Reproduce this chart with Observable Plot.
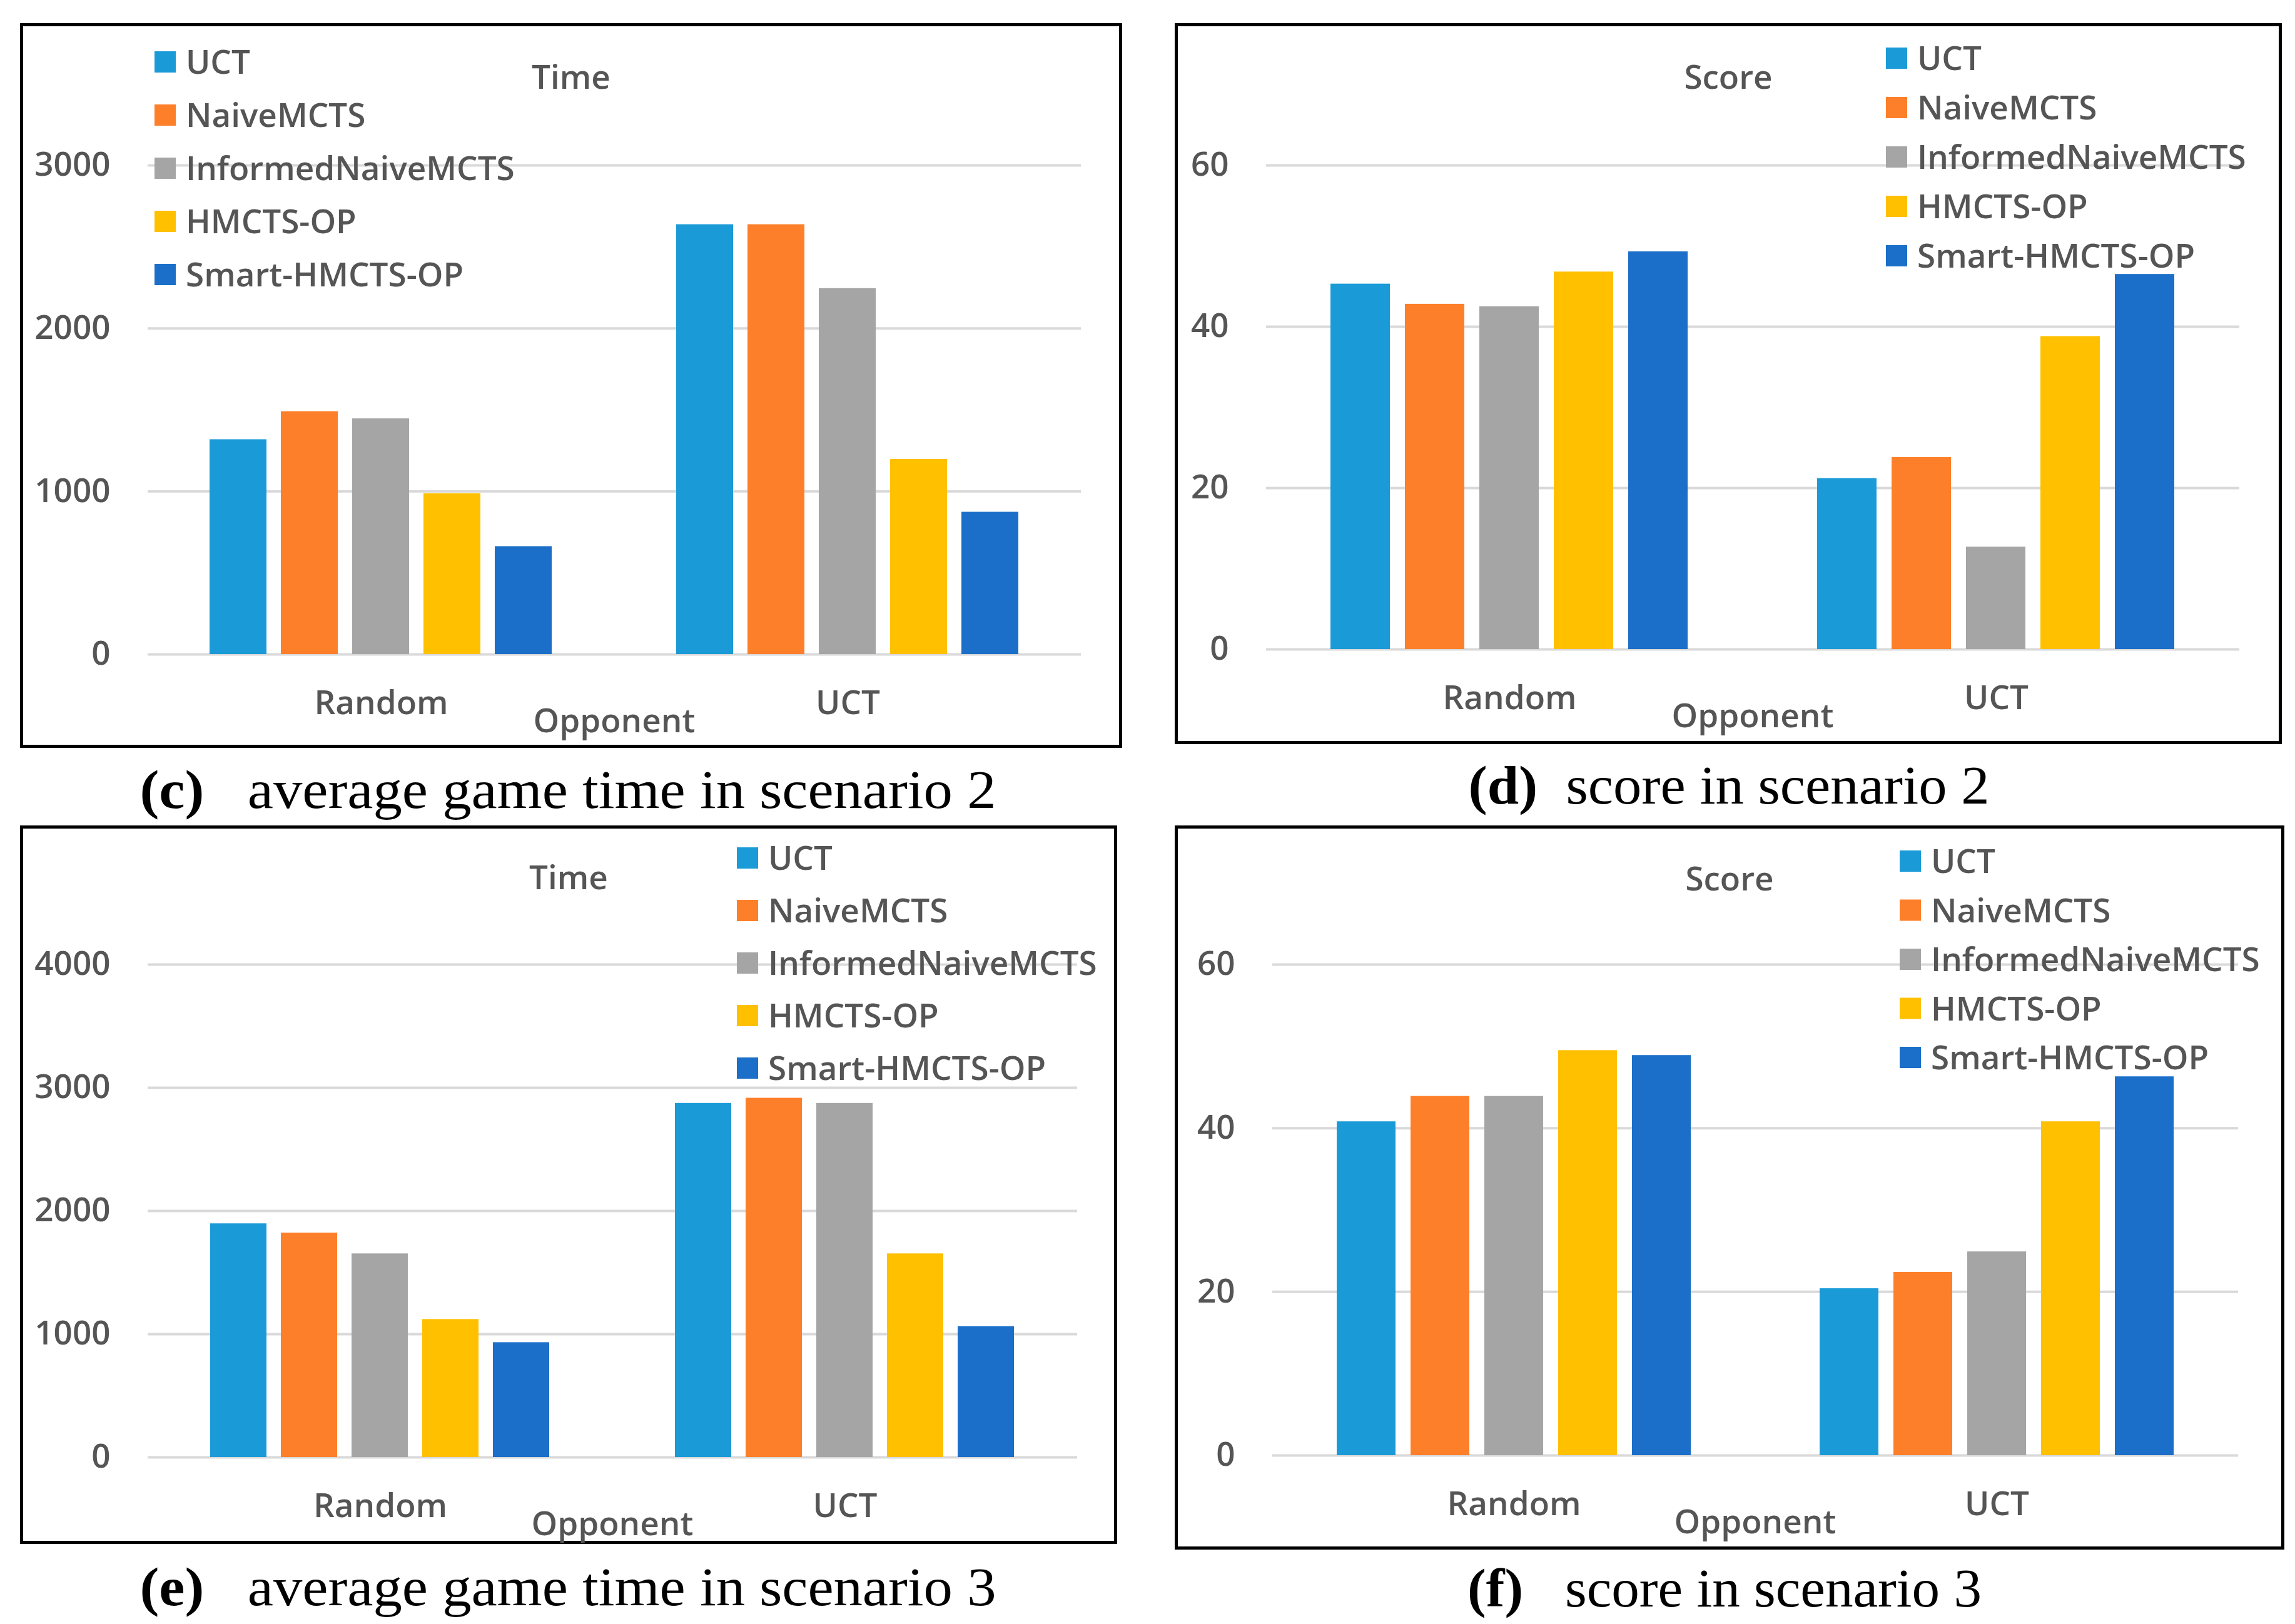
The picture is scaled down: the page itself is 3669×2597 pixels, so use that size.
<!DOCTYPE html>
<html>
<head>
<meta charset="utf-8">
<script src="https://cdn.jsdelivr.net/npm/d3@7"></script>
<script src="https://cdn.jsdelivr.net/npm/@observablehq/plot@0.6"></script>
<style>
  html, body { margin: 0; padding: 0; background: #fff; }
  body { position: relative; width: 3669px; height: 2597px; overflow: hidden; }
  .box { position: absolute; border: 5px solid #000; box-sizing: border-box; }
  .chart { position: absolute; }
  #overlay { position: absolute; left: 0; top: 0; }
</style>
</head>
<body>
<script>
// ---------- data ----------
const algorithms = ["UCT", "NaiveMCTS", "InformedNaiveMCTS", "HMCTS-OP", "Smart-HMCTS-OP"];
const opponents = ["Random", "UCT"];
const colors = ["#1a9bd7", "#fe7f2a", "#a5a5a5", "#ffc000", "#1b6fc9"];

const timeScenario2 = { Random: [1318, 1490, 1446, 987, 662], UCT: [2637, 2637, 2245, 1197, 873] };
const scoreScenario2 = { Random: [45.3, 42.8, 42.5, 46.8, 49.3], UCT: [21.2, 23.8, 12.7, 38.8, 46.5] };
const timeScenario3 = { Random: [1897, 1821, 1653, 1120, 932], UCT: [2874, 2916, 2874, 1653, 1062] };
const scoreScenario3 = { Random: [40.8, 43.9, 43.9, 49.5, 48.9], UCT: [20.4, 22.4, 24.9, 40.8, 46.3] };

const ticksTime2 = [0, 1000, 2000, 3000];
const ticksScore = [0, 20, 40, 60];
const ticksTime3 = [0, 1000, 2000, 3000, 4000];

const titles = ["Time", "Score", "Time", "Score"];
const captionLetters = ["(c)", "(d)", "(e)", "(f)"];
const captionTexts = ["average game time in scenario 2", "score in scenario 2", "average game time in scenario 3", "score in scenario 3"];
const xLabel = "Opponent";

// ---------- layout (page pixels) ----------
const panels = [
  { values: timeScenario2, ticks: ticksTime2, box: [32, 37, 1794, 1196], plot: [236, 1728, 264, 1046],
    legend: [247, 99, 85], titleX: 913, titleY: 142, cap: [908, 1292, 1369, "\u00a0\u00a0\u00a0"] },
  { values: scoreScenario2, ticks: ticksScore, box: [1878, 37, 3648, 1190], plot: [2024, 3580, 264, 1038],
    legend: [3015, 93, 79], titleX: 2763, titleY: 142, cap: [2764, 1285, 833, "\u00a0\u00a0"] },
  { values: timeScenario3, ticks: ticksTime3, box: [32, 1320, 1786, 2469], plot: [236, 1722, 1542, 2330],
    legend: [1178, 1372, 84], titleX: 909, titleY: 1422, cap: [908, 2567, 1369, "\u00a0\u00a0\u00a0"] },
  { values: scoreScenario3, ticks: ticksScore, box: [1878, 1320, 3652, 2478], plot: [2034, 3578, 1542, 2327],
    legend: [3037, 1377, 78.5], titleX: 2765, titleY: 1424, cap: [2757, 2569, 822, "\u00a0\u00a0\u00a0"] }
];

const textColor = "#555555";
const chartFont = "'Open Sans', 'Noto Sans', sans-serif";
const fontPx = 53;

panels.forEach((p, k) => {
  const [bl, bt, br, bb] = p.box;
  const [px0, px1, py0, py1] = p.plot;

  const box = document.createElement("div");
  box.className = "box";
  Object.assign(box.style, { left: bl + "px", top: bt + "px", width: (br - bl) + "px", height: (bb - bt) + "px" });
  document.body.appendChild(box);

  const rows = opponents.flatMap(o => algorithms.map((a, j) => ({ opponent: o, algorithm: a, value: p.values[o][j] })));
  const ymax = p.ticks[p.ticks.length - 1];

  const chart = Plot.plot({
    width: br - bl,
    height: bb - bt,
    marginLeft: px0 - bl,
    marginRight: br - px1,
    marginTop: py0 - bt,
    marginBottom: bb - py1,
    style: { background: "transparent", fontFamily: chartFont, fontSize: fontPx + "px", fontWeight: "600", color: textColor, overflow: "visible" },
    fx: { domain: opponents, padding: 0, label: null },
    x: { domain: algorithms, paddingInner: 0.2, paddingOuter: 0.865, axis: null },
    y: { domain: [0, ymax], label: null },
    color: { domain: algorithms, range: colors },
    marks: [
      Plot.gridY(p.ticks, { stroke: "#d9d9d9", strokeOpacity: 1, strokeWidth: 4 }),
      Plot.axisY(p.ticks, { tickSize: 0, tickPadding: 60, label: null, fill: textColor, tickFormat: d3.format("d") }),
      Plot.axisFx({ anchor: "bottom", tickSize: 0, tickPadding: 58, label: null, fill: textColor }),
      Plot.barY(rows, { fx: "opponent", x: "algorithm", y: "value", fill: "algorithm" })
    ]
  });
  chart.classList.add("chart");
  chart.style.left = bl + "px";
  chart.style.top = bt + "px";
  document.body.appendChild(chart);
});

// ---------- overlay: titles, legends, axis names, captions ----------
const svg = d3.select("body").append("svg")
  .attr("id", "overlay")
  .attr("width", 3669).attr("height", 2597);

panels.forEach((p, k) => {
  const [px0, px1, py0, py1] = p.plot;
  const g = svg.append("g");

  g.append("text")
    .attr("x", p.titleX).attr("y", p.titleY)
    .attr("text-anchor", "middle")
    .attr("font-family", chartFont).attr("font-size", fontPx).attr("font-weight", 600)
    .attr("fill", textColor)
    .text(titles[k]);

  g.append("text")
    .attr("x", (px0 + px1) / 2).attr("y", py1 + 125)
    .attr("text-anchor", "middle")
    .attr("font-family", chartFont).attr("font-size", fontPx).attr("font-weight", 600)
    .attr("fill", textColor)
    .text(xLabel);

  const [lx, ly, ls] = p.legend;
  const sq = 34;
  algorithms.forEach((a, j) => {
    const cy = ly + j * ls;
    g.append("rect").attr("x", lx).attr("y", cy - sq / 2).attr("width", sq).attr("height", sq).attr("fill", colors[j]);
    g.append("text")
      .attr("x", lx + sq + 16).attr("y", cy).attr("dy", "0.36em")
      .attr("font-family", chartFont).attr("font-size", fontPx).attr("font-weight", 600)
      .attr("fill", textColor)
      .text(a);
  });

  const [cx, cyb, cw, gap] = p.cap;
  const t = g.append("text")
    .attr("x", cx).attr("y", cyb)
    .attr("text-anchor", "middle")
    .attr("font-family", "'Liberation Serif', 'DejaVu Serif', serif")
    .attr("font-size", 86)
    .attr("fill", "#000")
    .attr("textLength", cw)
    .attr("lengthAdjust", "spacingAndGlyphs");
  t.append("tspan").attr("font-weight", 700).text(captionLetters[k]);
  t.append("tspan").text(gap + captionTexts[k]);
});
</script>
</body>
</html>
